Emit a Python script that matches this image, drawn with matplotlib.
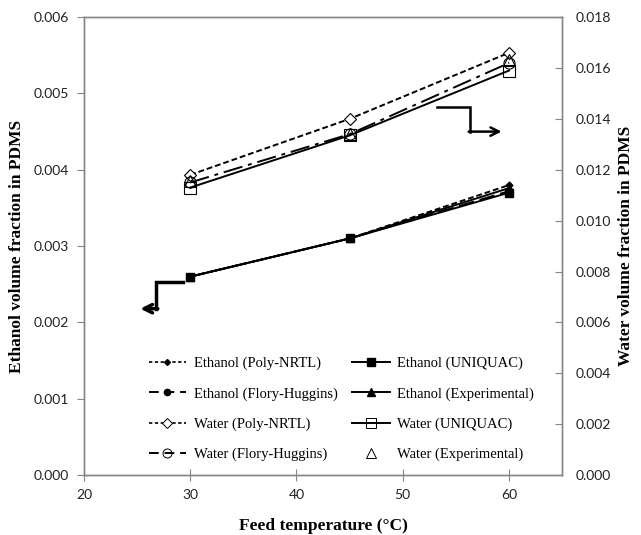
import matplotlib.pyplot as plt
from matplotlib.lines import Line2D

# data
temp = [30, 45, 60]
eth_polynrtl = [0.0026, 0.0031, 0.0038]
eth_flory = [0.0026, 0.0031, 0.00372]
eth_uniquac = [0.0026, 0.0031, 0.0037]
eth_exp = [0.0026, 0.0031, 0.00376]
water_polynrtl = [0.0118, 0.0140, 0.0166]
water_flory = [0.0115, 0.0134, 0.0162]
water_uniquac = [0.0113, 0.01335, 0.0159]
water_exp = [0.01155, 0.0134, 0.0163]

left_ticks = [0.000, 0.001, 0.002, 0.003, 0.004, 0.005, 0.006]
right_ticks = [0.000, 0.002, 0.004, 0.006, 0.008, 0.010, 0.012, 0.014, 0.016, 0.018]
x_ticks = [20, 30, 40, 50, 60]

serif = 'Liberation Serif'
sans = 'Lato'
grey = '#868686'

fig = plt.figure(figsize=(6.41, 5.35), dpi=100)
ax = fig.add_axes([0.131, 0.112, 0.746, 0.856])
ax2 = ax.twinx()

k = dict(color='black', lw=1.4)
ax.plot(temp, eth_polynrtl, ls=(0, (3, 1.5)), marker='D', ms=3.5, mfc='black', **k)
ax.plot(temp, eth_flory, ls=(0, (8, 3)), marker='o', ms=5, mfc='black', **k)
ax.plot(temp, eth_uniquac, ls='-', marker='s', ms=6, mfc='black', **k)
ax.plot(temp, eth_exp, ls='-', marker='^', ms=6, mfc='black', **k)

ax2.plot(temp, water_polynrtl, ls=(0, (3, 1.5)), marker='D', ms=6, mfc='white', mew=0.8, **k)
ax2.plot(temp, water_flory, ls=(0, (10, 3, 2, 3)), marker='o', ms=8, mfc='none', mew=0.8, **k)
ax2.plot(temp, water_uniquac, ls='-', marker='s', ms=8, mfc='none', mew=0.8, **k)
ax2.plot(temp, water_exp, ls='none', marker='^', ms=8, mfc='none', mew=0.8, color='black')

ax.set_xlim(20, 65)
ax.set_ylim(0, 0.006)
ax2.set_ylim(0, 0.018)
ax.set_xticks(x_ticks)
ax.set_yticks(left_ticks)
ax2.set_yticks(right_ticks)
ax.set_yticklabels(['%.3f' % v for v in left_ticks])
ax2.set_yticklabels(['%.3f' % v for v in right_ticks])

for a in (ax, ax2):
    for s in a.spines.values():
        s.set_color(grey)
        s.set_linewidth(1)
ax.tick_params(axis='y', direction='out', length=5, color=grey, labelsize=10, pad=6)
ax.tick_params(axis='x', direction='inout', length=8, color=grey, labelsize=10, pad=6)
ax2.tick_params(axis='y', direction='in', length=5, color=grey, labelsize=10, pad=10)
for lab in ax.get_xticklabels() + ax.get_yticklabels() + ax2.get_yticklabels():
    lab.set_fontfamily(sans)
    lab.set_color('#222222')

ax.set_xlabel('Feed temperature (°C)', fontfamily=serif, fontweight='bold', fontsize=12.5, labelpad=12)
ax.set_ylabel('Ethanol volume fraction in PDMS', fontfamily=serif, fontweight='bold', fontsize=12.5, labelpad=6)
ax2.set_ylabel('Water volume fraction in PDMS', fontfamily=serif, fontweight='bold', fontsize=12.5, labelpad=5)

# direction arrows
ax.plot([29.3, 26.8, 26.8], [0.00253, 0.00253, 0.00218], color='black', lw=2.5, solid_joinstyle='miter')
ax.annotate('', xy=(25.3, 0.00218), xytext=(26.95, 0.00218),
            arrowprops=dict(arrowstyle='->', lw=2.5, color='black', mutation_scale=15, shrinkA=0, shrinkB=0))
ax.plot([53.2, 56.3, 56.3], [0.00482, 0.00482, 0.0045], color='black', lw=1.8, solid_joinstyle='miter')
ax.annotate('', xy=(59.3, 0.0045), xytext=(56.2, 0.0045),
            arrowprops=dict(arrowstyle='->', lw=1.8, color='black', mutation_scale=15, shrinkA=0, shrinkB=0))

# legend
h = [
    Line2D([], [], color='black', lw=1.2, ls=(0, (2, 1.5)), marker='D', ms=3, mfc='black'),
    Line2D([], [], color='black', lw=1.4, ls=(0, (5, 3)), marker='o', ms=4.5, mfc='black'),
    Line2D([], [], color='black', lw=1.2, ls=(0, (2, 1.5)), marker='D', ms=5, mfc='white', mew=0.7),
    Line2D([], [], color='black', lw=1.4, ls=(0, (5, 3)), marker='o', ms=6.5, mfc='none', mew=0.7),
    Line2D([], [], color='black', lw=1.4, ls='-', marker='s', ms=5.5, mfc='black'),
    Line2D([], [], color='black', lw=1.4, ls='-', marker='^', ms=5.5, mfc='black'),
    Line2D([], [], color='black', lw=1.4, ls='-', marker='s', ms=6.5, mfc='none', mew=0.7),
    Line2D([], [], color='black', ls='none', marker='^', ms=6.5, mfc='none', mew=0.7),
]
labels = ['Ethanol (Poly-NRTL)', 'Ethanol (Flory-Huggins)', 'Water (Poly-NRTL)', 'Water (Flory-Huggins)',
          'Ethanol (UNIQUAC)', 'Ethanol (Experimental)', 'Water (UNIQUAC)', 'Water (Experimental)']
ax2.legend(h, labels, ncol=2, loc='upper left', bbox_to_anchor=(0.135, 0.258), frameon=False,
           prop={'family': serif, 'size': 10.5}, handlelength=2.6, handletextpad=0.5,
           columnspacing=1.0, labelspacing=1.15, borderaxespad=0, borderpad=0)

fig.savefig('out.png', dpi=100)
